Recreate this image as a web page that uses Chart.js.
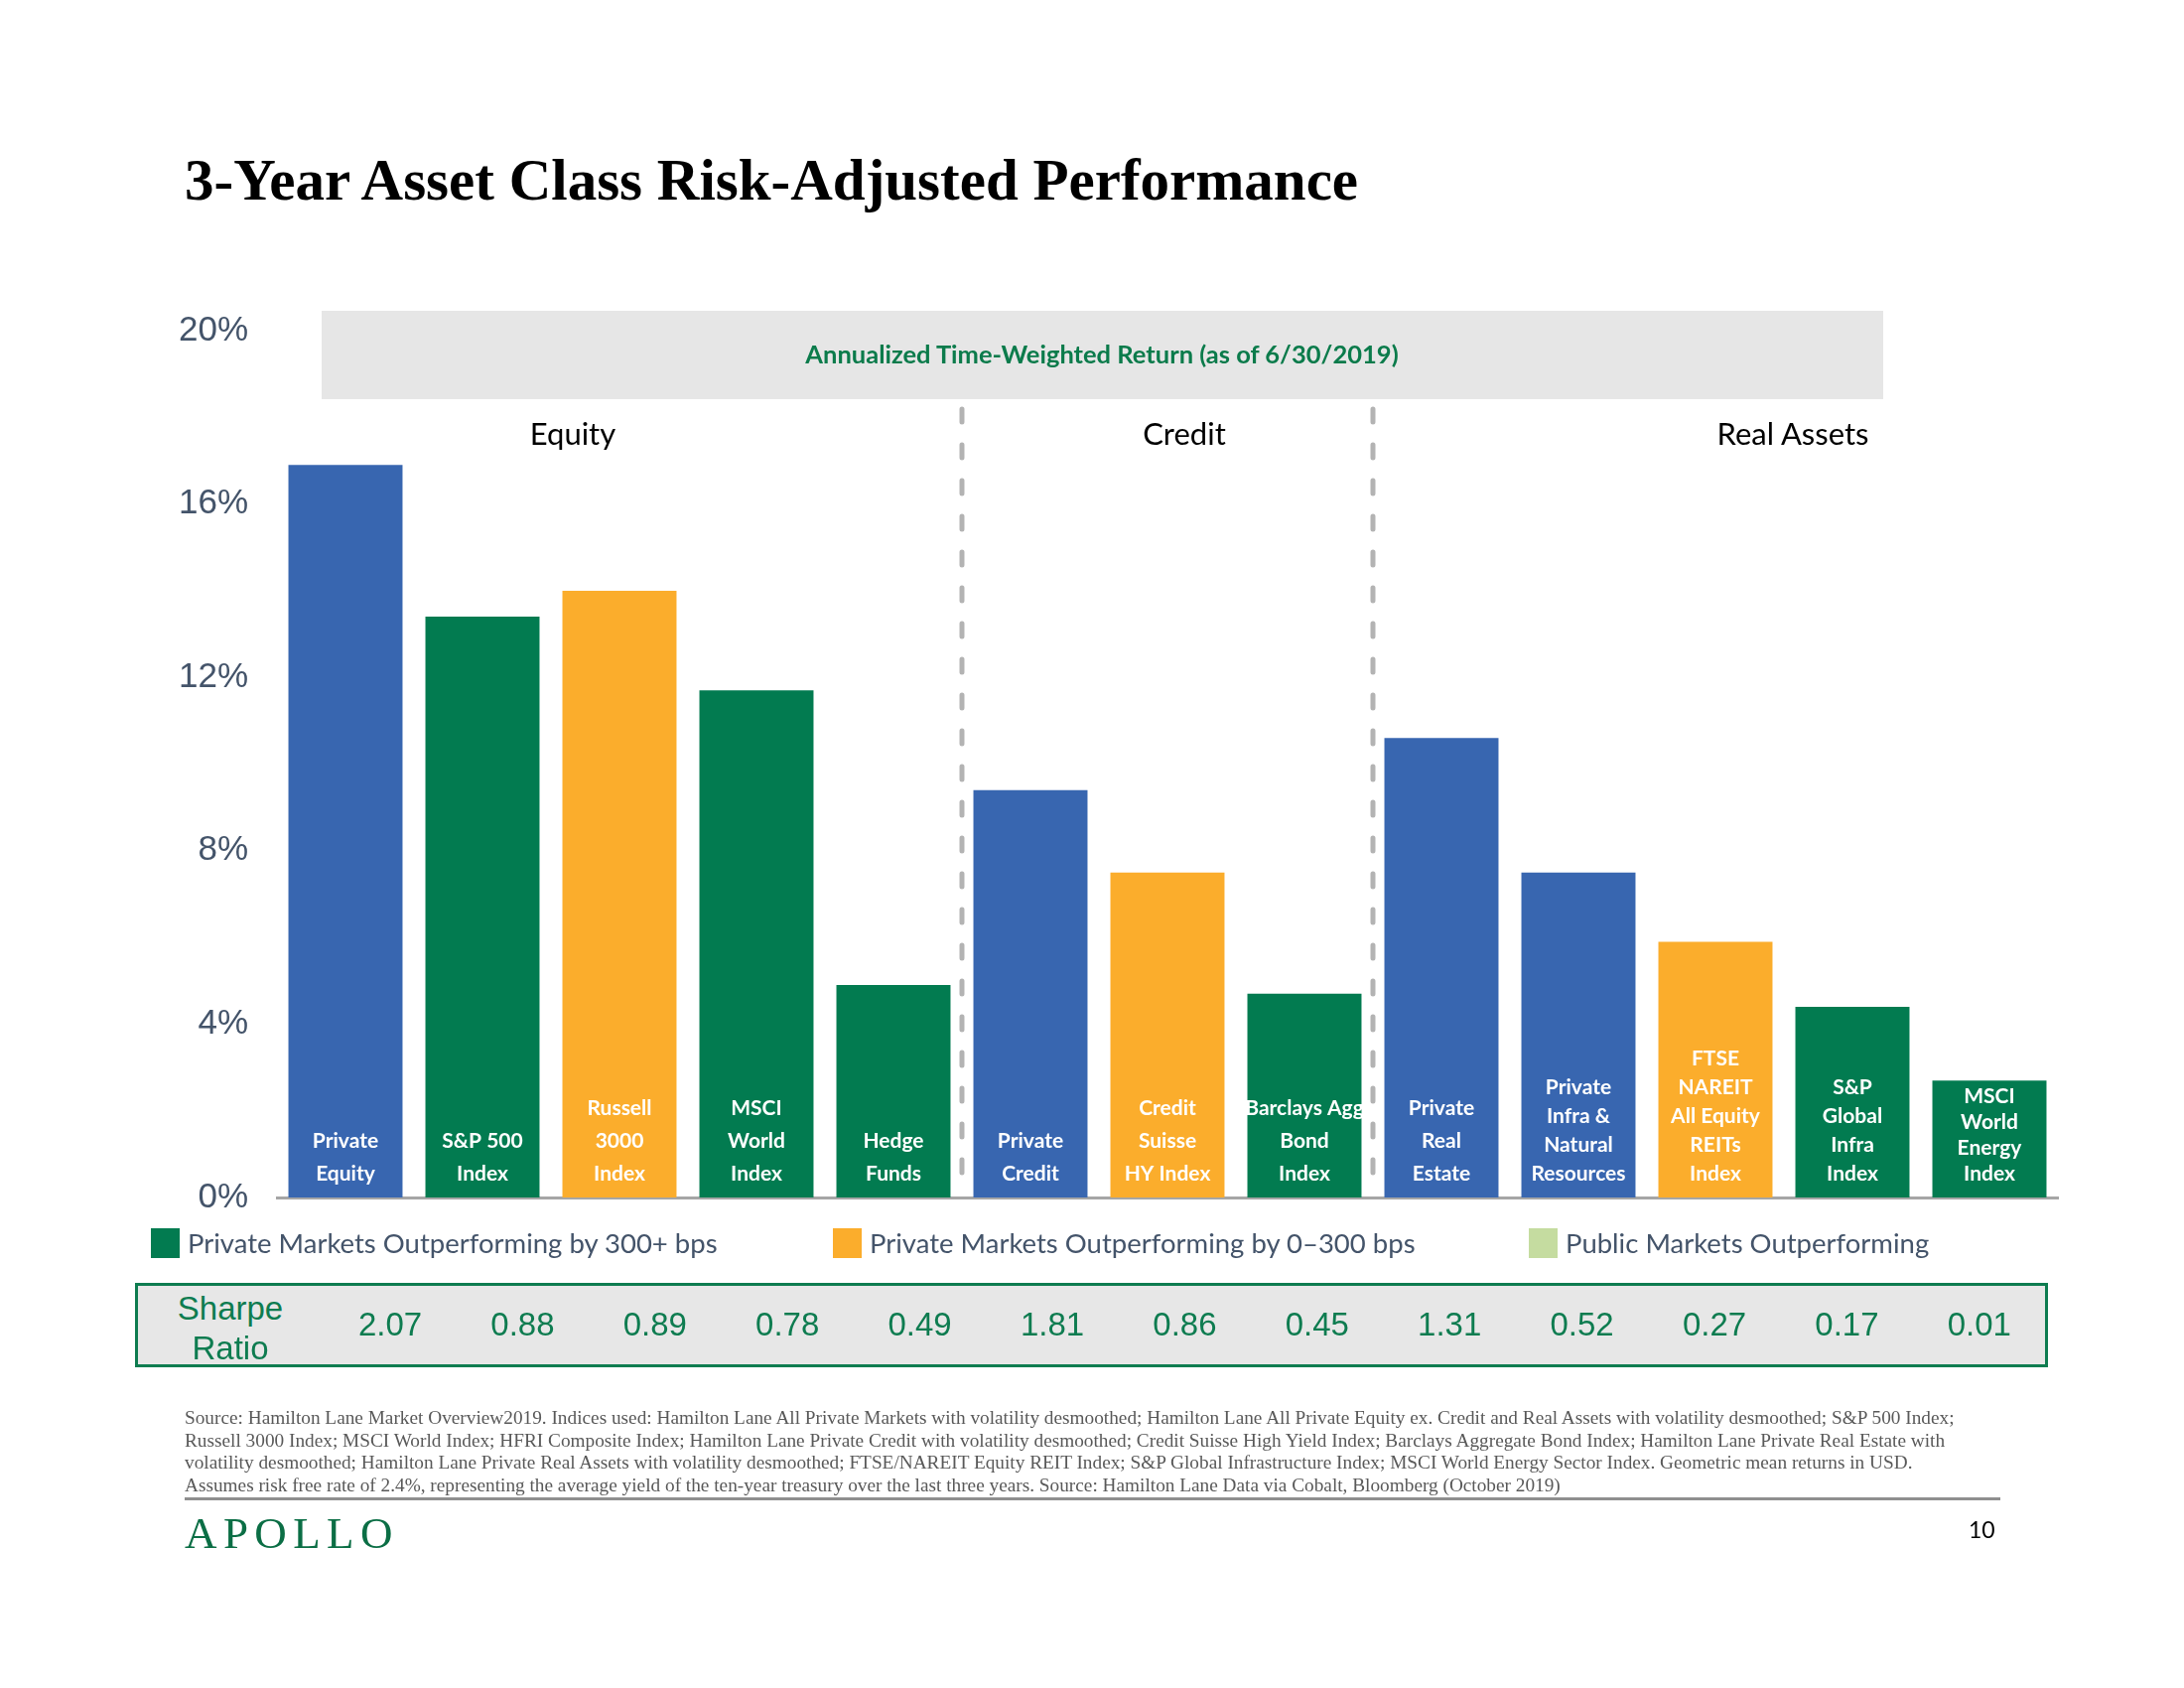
<!DOCTYPE html>
<html>
<head>
<meta charset="utf-8">
<script src="https://cdn.jsdelivr.net/npm/chart.js@4.4.1/dist/chart.umd.min.js"></script>
<style>
  body { margin: 0; width: 2200px; height: 1700px; position: relative; background: #fff; overflow: hidden; }
  .t { position: absolute; white-space: nowrap; }
  #title { left: 186px; top: 152px; font: bold 59px/59px "Liberation Serif", serif; color: #000; }
  #band { position: absolute; left: 324px; top: 313px; width: 1573px; height: 89px; background: #e6e6e6; }
  .sec { font: 31px/40px Lato, sans-serif; color: #000; transform: translateX(-50%); }
  .leg { font: 27.5px/34px Lato, sans-serif; color: #44546a; }
  .sq { position: absolute; width: 29px; height: 30px; top: 1237px; }
  #sharpeBox { position: absolute; left: 136px; top: 1292px; width: 1927px; height: 85px; box-sizing: border-box;
               border: 3px solid #0e7c50; background: #e7e7e7; }
  .sv { font: 33px/40px "Liberation Sans", Arial, sans-serif; color: #0e7c50; transform: translateX(-50%); }
  #foot { left: 186px; top: 1417px; font: 19.3px/22.6px "Liberation Serif", serif; color: #595959; }
  #rule { position: absolute; left: 186px; top: 1508px; width: 1829px; height: 3px; background: #8f8f8f; }
  #logo { left: 186px; top: 1522px; font: 45px/45px "Liberation Serif", serif; letter-spacing: 6.4px; color: #0b6e45; }
  #page { left: 1983px; top: 1526px; font: 23px/28px Lato, sans-serif; color: #000; }
</style>
</head>
<body>
<div id="band"></div>
<canvas id="c" width="2200" height="1700" style="position:absolute;left:0;top:0"></canvas>
<div class="t" id="title">3-Year Asset Class Risk-Adjusted Performance</div>
<div class="t" style="left:1110px;top:340px;transform:translateX(-50%);font:bold 25.5px/32px Lato,sans-serif;color:#0b7b4b">Annualized Time-Weighted Return (as of 6/30/2019)</div>
<div id="sharpeBox"></div>
<div class="t" id="foot"></div>
<div id="rule"></div>
<div class="t" id="logo">APOLLO</div>
<div class="t" id="page">10</div>

<script>
const categories = [
  ["Private", "Equity"],
  ["S&P 500", "Index"],
  ["Russell", "3000", "Index"],
  ["MSCI", "World", "Index"],
  ["Hedge", "Funds"],
  ["Private", "Credit"],
  ["Credit", "Suisse", "HY Index"],
  ["Barclays Agg", "Bond", "Index"],
  ["Private", "Real", "Estate"],
  ["Private", "Infra &", "Natural", "Resources"],
  ["FTSE", "NAREIT", "All Equity", "REITs", "Index"],
  ["S&P", "Global", "Infra", "Index"],
  ["MSCI", "World", "Energy", "Index"]
];
const returns = [16.9, 13.4, 14.0, 11.7, 4.9, 9.4, 7.5, 4.7, 10.6, 7.5, 5.9, 4.4, 2.7];
const groups = ["private", "over300", "under300", "over300", "over300", "private", "under300",
                "over300", "private", "private", "under300", "over300", "over300"];
const sharpe = ["2.07", "0.88", "0.89", "0.78", "0.49", "1.81", "0.86", "0.45", "1.31", "0.52", "0.27", "0.17", "0.01"];
const yTicks = [0, 4, 8, 12, 16, 20];
const dividers = [4.5, 7.5];
const sections = ["Equity", "Credit", "Real Assets"];
const legendLabels = ["Private Markets Outperforming by 300+ bps",
                      "Private Markets Outperforming by 0\u2013300 bps",
                      "Public Markets Outperforming"];
const legendGroups = ["over300", "under300", "public"];

const colors = { private: "#3866b0", over300: "#027b50", under300: "#fbad2c", public: "#c5dca0" };

const footLines = [
  "Source: Hamilton Lane Market Overview2019. Indices used: Hamilton Lane All Private Markets with volatility desmoothed; Hamilton Lane All Private Equity ex. Credit and Real Assets with volatility desmoothed; S&P 500 Index;",
  "Russell 3000 Index; MSCI World Index; HFRI Composite Index; Hamilton Lane Private Credit with volatility desmoothed; Credit Suisse High Yield Index; Barclays Aggregate Bond Index; Hamilton Lane Private Real Estate with",
  "volatility desmoothed; Hamilton Lane Private Real Assets with volatility desmoothed; FTSE/NAREIT Equity REIT Index; S&P Global Infrastructure Index; MSCI World Energy Sector Index. Geometric mean returns in USD.",
  "Assumes risk free rate of 2.4%, representing the average yield of the ten-year treasury over the last three years. Source: Hamilton Lane Data via Cobalt, Bloomberg (October 2019)"
];

function addText(text, cls, left, top) {
  const d = document.createElement("div");
  d.className = "t " + cls;
  d.style.left = left + "px";
  d.style.top = top + "px";
  d.textContent = text;
  document.body.appendChild(d);
  return d;
}

// section headings over the three groups
const secX = [577, 1193, 1806];
sections.forEach((s, i) => addText(s, "sec", secX[i], 416));

// legend row
const legSq = [152, 839, 1540];
legendLabels.forEach((l, i) => {
  const sq = document.createElement("div");
  sq.className = "sq";
  sq.style.left = legSq[i] + "px";
  sq.style.background = colors[legendGroups[i]];
  document.body.appendChild(sq);
  addText(l, "leg", legSq[i] + 37, 1235);
});

// sharpe ratio row
addText("Sharpe", "sv", 232, 1298);
addText("Ratio", "sv", 232, 1338);
sharpe.forEach((v, i) => addText(v, "sv", 393 + i * 133.4, 1314));

document.getElementById("foot").innerHTML = footLines.join("<br>");

const overlay = {
  id: "overlay",
  afterDatasetsDraw(chart) {
    const { ctx, scales: { x, y } } = chart;
    const base = y.getPixelForValue(0);
    ctx.save();
    ctx.strokeStyle = "#b3b3b3";
    ctx.lineWidth = 5;
    ctx.lineCap = "round";
    ctx.setLineDash([13, 23]);
    dividers.forEach(d => {
      const px = x.getPixelForValue(d);
      ctx.beginPath();
      ctx.moveTo(px, 412);
      ctx.lineTo(px, base - 4);
      ctx.stroke();
    });
    ctx.setLineDash([]);
    ctx.fillStyle = "#fff";
    ctx.font = "bold 21px Lato";
    ctx.textAlign = "center";
    ctx.textBaseline = "middle";
    chart.getDatasetMeta(0).data.forEach((bar, i) => {
      const lines = categories[i];
      const bottom = base - 24;
      let step = lines.length > 3 ? 29 : 33;
      // squeeze the lines when the bar is too short for them
      if (lines.length > 1) step = Math.min(step, (bottom - bar.y - 16) / (lines.length - 1));
      lines.forEach((ln, j) => ctx.fillText(ln, bar.x, bottom - (lines.length - 1 - j) * step));
    });
    ctx.restore();
  }
};

new Chart(document.getElementById("c"), {
  type: "bar",
  data: {
    labels: categories,
    datasets: [{
      data: returns,
      backgroundColor: groups.map(g => colors[g]),
      barPercentage: 0.833,
      categoryPercentage: 1
    }]
  },
  options: {
    responsive: false,
    animation: false,
    devicePixelRatio: 1,
    layout: { padding: { left: 0, right: 127, top: 333, bottom: 494 } },
    plugins: { legend: { display: false }, tooltip: { enabled: false } },
    scales: {
      x: {
        grid: { display: false, drawTicks: false },
        ticks: { display: false },
        border: { color: "#a6a6a6", width: 3 },
        afterFit(s) { s.height = 0; }
      },
      y: {
        min: 0,
        max: 20,
        afterBuildTicks(s) { s.ticks = yTicks.map(v => ({ value: v })); },
        ticks: {
          padding: 29,
          color: "#44546a",
          font: { family: "Liberation Sans", size: 35 },
          callback: v => v + "%"
        },
        grid: { display: false, drawTicks: false },
        border: { display: false },
        afterFit(s) { s.width = 279; }
      }
    }
  },
  plugins: [overlay]
});
</script>
</body>
</html>
